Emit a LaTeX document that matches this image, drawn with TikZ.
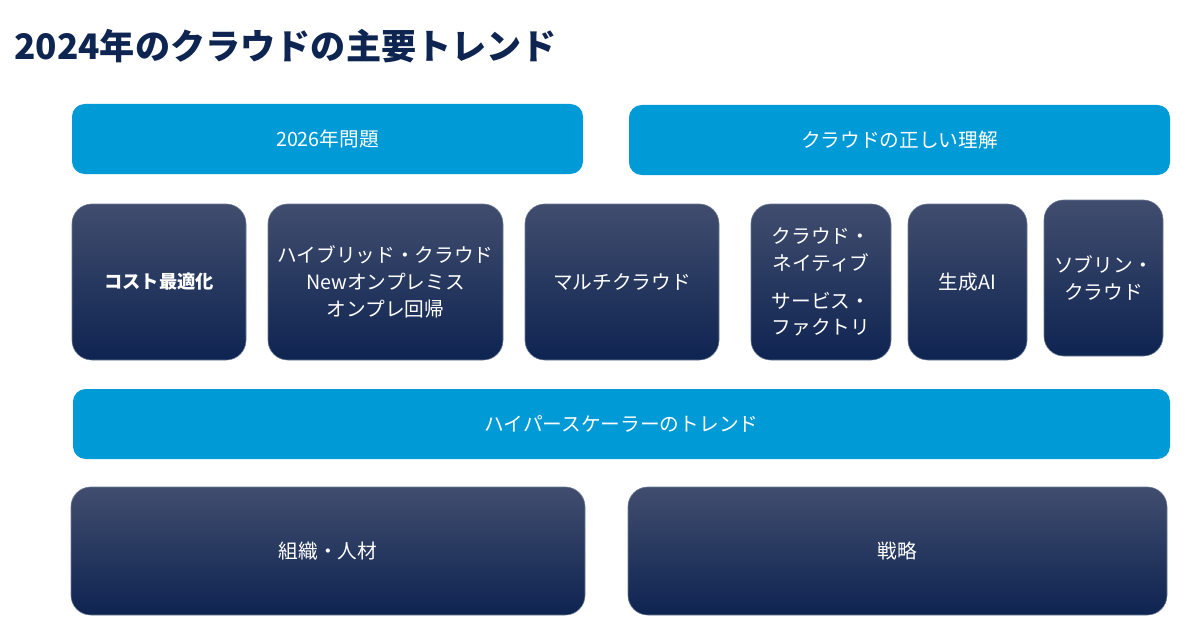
\documentclass[tikz,border=0pt]{standalone}
\usepackage{fontspec}
\setmainfont{Noto Sans CJK JP}
\usetikzlibrary{positioning}
\definecolor{navy}{HTML}{0E2451}
\definecolor{navytop}{HTML}{414D6E}
\definecolor{skyblue}{HTML}{009AD6}
\tikzset{
  bar/.style={fill=skyblue, rounded corners=9pt, text=white, font=\fontsize{14}{16}\selectfont, inner sep=0pt},
  tile/.style={top color=navytop, bottom color=navy, draw=navy!60, rounded corners=14pt, text=white,
    font=\fontsize{14}{19}\selectfont, align=center, inner sep=0pt}
}
\begin{document}
\begin{tikzpicture}[x=0.025cm,y=-0.025cm]
  \useasboundingbox (0,0) rectangle (1188,630);
  \fill[white] (0,0) rectangle (1188,630);
  % title
  \node[anchor=west, text=navy, font=\fontsize{25}{28}\selectfont\bfseries, inner sep=0pt] (title) at (14,46) {2024年のクラウドの主要トレンド};
  % upper bars
  \node[bar, minimum width={511*0.025cm}, minimum height={70*0.025cm}] (issue) at (327.5,139) {2026年問題};
  \node[bar, minimum width={541*0.025cm}, minimum height={70*0.025cm}] (understand) at (899.5,140) {クラウドの正しい理解};
  % tiles
  \node[tile, minimum width={174*0.025cm}, minimum height={156*0.025cm}, font=\fontsize{13}{17}\selectfont\bfseries] (cost) at (159,282) {コスト最適化};
  \node[tile, minimum width={235*0.025cm}, minimum height={156*0.025cm}] (hybrid) at (385.5,282) {ハイブリッド・クラウド\\Newオンプレミス\\オンプレ回帰};
  \node[tile, minimum width={194*0.025cm}, minimum height={156*0.025cm}] (multi) at (622,282) {マルチクラウド};
  \node[tile, minimum width={140*0.025cm}, minimum height={156*0.025cm}] (native) at (821,282) {クラウド・\\ネイティブ\\[8pt]サービス・\\ファクトリ};
  \node[tile, minimum width={119*0.025cm}, minimum height={156*0.025cm}] (genai) at (967.5,282) {生成AI};
  \node[tile, minimum width={119*0.025cm}, minimum height={156*0.025cm}] (sovereign) at (1103.5,278) {ソブリン・\\クラウド};
  % hyperscaler bar
  \node[bar, minimum width={1097*0.025cm}, minimum height={70*0.025cm}] (hyper) at (621.5,424) {ハイパースケーラーのトレンド};
  % bottom tiles
  \node[tile, minimum width={514*0.025cm}, minimum height={128*0.025cm}] (people) at (328,551) {組織・人材};
  \node[tile, minimum width={539*0.025cm}, minimum height={128*0.025cm}] (strategy) at (897.5,551) {戦略};
\end{tikzpicture}
\end{document}
